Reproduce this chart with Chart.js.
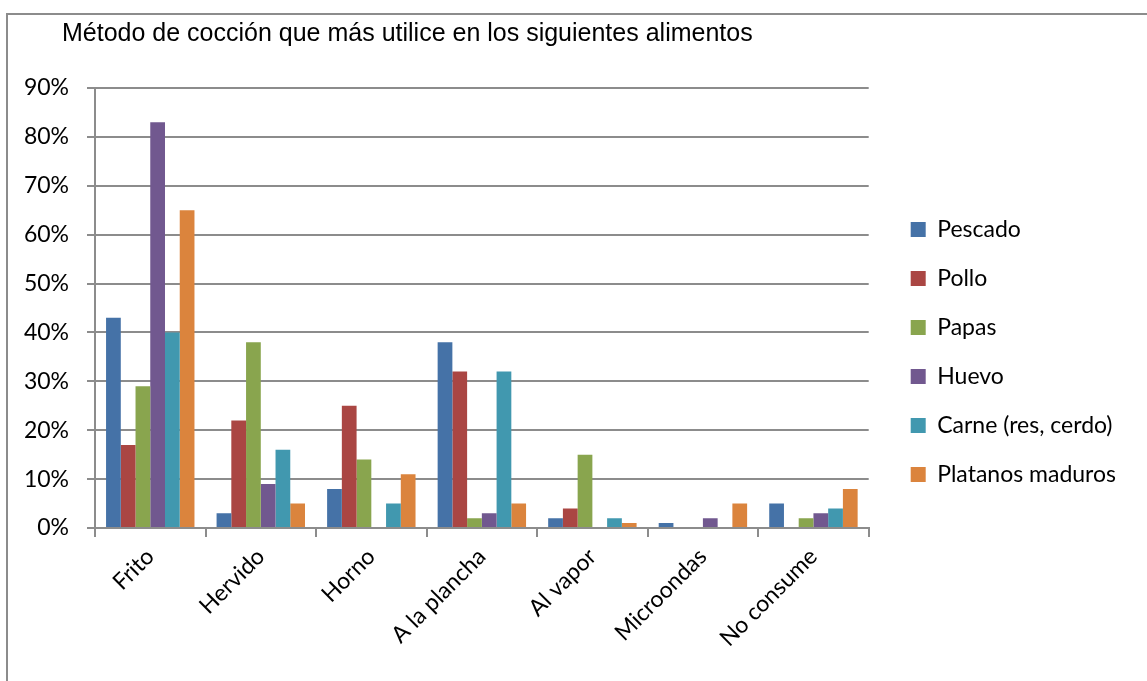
<!DOCTYPE html>
<html>
<head>
<meta charset="utf-8">
<script src="https://cdn.jsdelivr.net/npm/chart.js@4/dist/chart.umd.min.js"></script>
<style>
    html, body { margin: 0; padding: 0; background: #fff; overflow: hidden; }
    #marco {
        position: absolute; left: 6px; top: 13px; width: 1300px; height: 800px;
        border: 2px solid #8c8c8c; box-sizing: border-box;
    }
    #contenedor { position: absolute; left: 0; top: 0; width: 1147px; height: 681px; }
</style>
</head>
<body>
<div id="marco"></div>
<div id="contenedor"><canvas id="chartCoccion"></canvas></div>
<script>
// Métodos de cocción (categorías)
const metodos = ['Frito', 'Hervido', 'Horno', 'A la plancha', 'Al vapor', 'Microondas', 'No consume'];

// Porcentajes por alimento
const pescado = [43, 3, 8, 38, 2, 1, 5];
const pollo = [17, 22, 25, 32, 4, 0, 0];
const papas = [29, 38, 14, 2, 15, 0, 2];
const huevo = [83, 9, 0, 3, 0, 2, 3];
const carne = [40, 16, 5, 32, 2, 0, 4];
const platanos = [65, 5, 11, 5, 1, 5, 8];

const series = ['Pescado', 'Pollo', 'Papas', 'Huevo', 'Carne (res, cerdo)', 'Platanos maduros'];
const colores = ['#4572A7', '#AA4643', '#89A54E', '#71588F', '#4198AF', '#DB843D'];
const valoresSeries = [pescado, pollo, papas, huevo, carne, platanos];

const titulo = 'Método de cocción que más utilice en los siguientes alimentos';

const fuente = "Lato, 'Open Sans', sans-serif";
const grisEje = '#8c8c8c';

// El título va alineado a la izquierda, más a la derecha que las etiquetas del eje
const pluginTitulo = {
    id: 'tituloCoccion',
    afterDraw: function (chart) {
        const ctx = chart.ctx;
        ctx.save();
        ctx.fillStyle = '#000';
        ctx.font = "25px 'Liberation Sans', Arial, sans-serif";
        ctx.textAlign = 'left';
        ctx.textBaseline = 'alphabetic';
        ctx.fillText(titulo, 62, 41);
        ctx.restore();
    }
};

document.addEventListener('DOMContentLoaded', function () {
    const canvas = document.getElementById('chartCoccion');

    const datasets = series.map((nombre, i) => ({
        label: nombre,
        data: valoresSeries[i].map(v => v / 100),
        backgroundColor: colores[i],
        borderWidth: 0,
        categoryPercentage: 0.8,
        barPercentage: 1.0
    }));

    new Chart(canvas, {
        type: 'bar',
        data: {
            labels: metodos,
            datasets: datasets
        },
        plugins: [pluginTitulo],
        options: {
            responsive: true,
            maintainAspectRatio: false,
            animation: false,
            layout: {
                padding: { left: 10, top: 88, right: 21, bottom: 20 }
            },
            plugins: {
                title: { display: false },
                legend: {
                    position: 'right',
                    align: 'start',
                    maxWidth: 320,
                    // título vacío: solo sirve para bajar la leyenda
                    title: {
                        display: true,
                        text: ' ',
                        font: { size: 10 },
                        padding: { top: 92, bottom: 0 }
                    },
                    labels: {
                        color: '#000',
                        font: { family: fuente, size: 23 },
                        boxWidth: 15,
                        boxHeight: 15,
                        padding: 26
                    }
                },
                tooltip: { enabled: false }
            },
            scales: {
                x: {
                    grid: {
                        display: true,
                        drawOnChartArea: false,
                        drawTicks: true,
                        tickLength: 9,
                        color: grisEje,
                        lineWidth: 2
                    },
                    border: { display: true, color: grisEje, width: 2 },
                    ticks: {
                        color: '#000',
                        font: { family: fuente, size: 23 },
                        minRotation: 45,
                        maxRotation: 45,
                        padding: 6
                    },
                    afterFit: function (scale) {
                        scale.height = 133;
                    }
                },
                y: {
                    min: 0,
                    max: 0.9,
                    ticks: {
                        stepSize: 0.1,
                        color: '#000',
                        font: { family: fuente, size: 23 },
                        padding: 18,
                        callback: function (v) {
                            return Math.round(v * 100) + '%';
                        }
                    },
                    grid: {
                        color: grisEje,
                        lineWidth: 2,
                        tickLength: 8
                    },
                    border: { display: true, color: grisEje, width: 2 },
                    afterFit: function (scale) {
                        scale.width = 85;
                    }
                },
                y2: {
                    position: 'right',
                    display: true,
                    grid: { display: false, drawTicks: false },
                    border: { display: false },
                    ticks: { display: false },
                    afterFit: function (scale) {
                        scale.width = 16;
                    }
                }
            }
        }
    });
});
</script>
</body>
</html>
